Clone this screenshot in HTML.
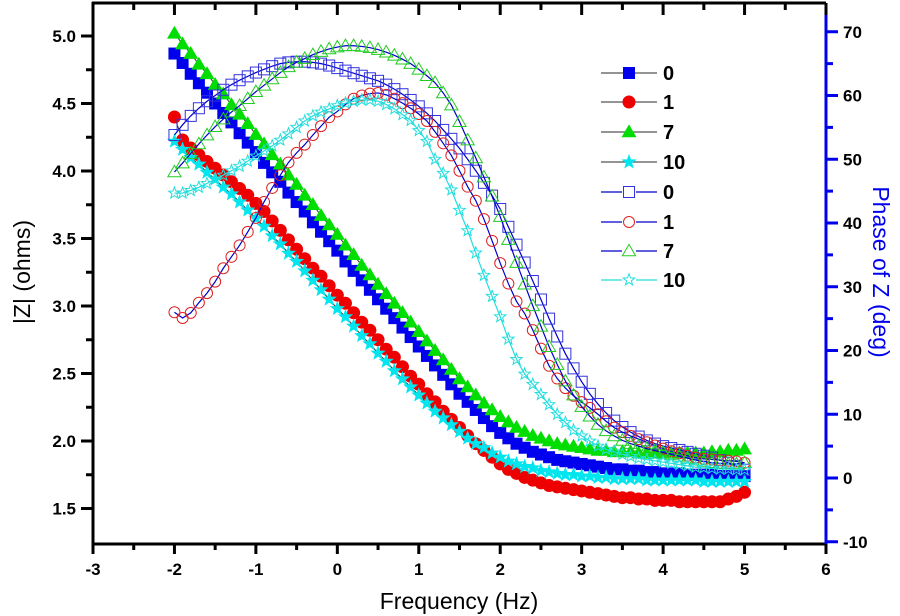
<!DOCTYPE html>
<html><head><meta charset="utf-8"><style>
html,body{margin:0;padding:0;background:#fff;}
svg{display:block;font-family:"Liberation Sans",Arial,sans-serif;}
</style></head><body>
<svg id="chart" width="900" height="616" viewBox="0 0 900 616" xmlns="http://www.w3.org/2000/svg"></svg>
<script>
const freqs = [];
for (let i = 0; i <= 70; i++) freqs.push(Math.round((-2 + i * 0.1) * 10) / 10);

const magLabels = ["0", "1", "7", "10"];
const mag0 = [4.87,4.80,4.72,4.65,4.58,4.50,4.43,4.36,4.28,4.21,4.14,4.06,3.99,3.92,3.84,3.77,3.70,3.62,3.55,3.48,3.41,3.33,3.26,3.19,3.12,3.05,2.98,2.91,2.84,2.77,2.70,2.63,2.56,2.49,2.42,2.35,2.29,2.23,2.17,2.11,2.06,2.02,1.98,1.95,1.92,1.90,1.88,1.86,1.85,1.84,1.83,1.82,1.81,1.80,1.79,1.79,1.78,1.78,1.77,1.77,1.76,1.76,1.76,1.75,1.75,1.75,1.75,1.74,1.74,1.74,1.74];
const mag1 = [4.40,4.23,4.17,4.12,4.07,4.02,3.97,3.92,3.87,3.82,3.76,3.70,3.63,3.56,3.49,3.42,3.35,3.28,3.22,3.15,3.08,3.02,2.95,2.88,2.82,2.75,2.68,2.62,2.55,2.48,2.42,2.35,2.29,2.22,2.16,2.10,2.04,1.98,1.93,1.88,1.83,1.79,1.76,1.73,1.71,1.69,1.67,1.66,1.65,1.64,1.63,1.62,1.61,1.60,1.59,1.58,1.58,1.57,1.57,1.56,1.56,1.56,1.55,1.55,1.55,1.55,1.55,1.55,1.57,1.59,1.62];
const mag7 = [5.02,4.94,4.87,4.79,4.72,4.64,4.57,4.49,4.42,4.35,4.27,4.20,4.12,4.05,3.97,3.90,3.82,3.75,3.67,3.60,3.53,3.45,3.38,3.30,3.23,3.16,3.09,3.02,2.95,2.88,2.81,2.74,2.67,2.60,2.53,2.46,2.40,2.34,2.28,2.23,2.18,2.14,2.10,2.07,2.04,2.02,2.00,1.98,1.97,1.96,1.95,1.94,1.93,1.93,1.92,1.92,1.92,1.91,1.91,1.91,1.91,1.91,1.91,1.91,1.91,1.91,1.92,1.92,1.93,1.93,1.94];
const mag10 = [4.22,4.16,4.10,4.05,3.99,3.94,3.88,3.83,3.77,3.71,3.65,3.59,3.52,3.46,3.39,3.33,3.26,3.19,3.12,3.05,2.98,2.92,2.85,2.78,2.72,2.65,2.59,2.52,2.46,2.40,2.34,2.28,2.22,2.17,2.12,2.07,2.02,1.98,1.95,1.91,1.88,1.85,1.83,1.81,1.80,1.78,1.77,1.76,1.75,1.75,1.74,1.74,1.73,1.73,1.72,1.72,1.72,1.72,1.71,1.71,1.71,1.71,1.71,1.71,1.71,1.70,1.70,1.70,1.70,1.70,1.70];

const ph0 = [53.8,55.4,56.8,58.0,59.1,60.0,60.9,61.7,62.4,63.0,63.6,64.1,64.6,65.0,65.2,65.3,65.3,65.2,65.0,64.7,64.3,63.9,63.5,63.1,62.7,62.3,61.7,61.0,60.2,59.3,58.3,57.2,56.0,54.6,53.2,51.7,50.0,48.2,46.3,44.3,42.2,39.4,36.6,33.8,30.9,28.0,25.0,22.2,19.5,17.2,15.1,13.2,11.6,10.2,9.0,8.0,7.2,6.5,5.9,5.4,5.0,4.7,4.4,4.1,3.8,3.5,3.2,2.8,2.4,1.9,1.3];
const ph1 = [26.0,25.1,25.9,27.5,29.0,30.8,32.9,34.7,36.5,38.6,40.8,43.3,45.5,47.5,49.5,51.0,52.3,53.8,55.2,56.6,57.5,58.6,59.5,60.0,60.3,60.4,60.1,59.5,58.8,58.0,57.1,56.0,54.3,52.5,50.6,48.2,45.7,43.5,40.6,37.2,33.7,30.5,27.7,25.8,23.2,20.3,17.6,15.6,14.1,12.9,11.9,11.0,10.0,8.9,7.9,7.2,6.6,6.1,5.6,5.1,4.6,4.2,3.9,3.5,3.2,3.0,2.9,2.8,2.7,2.6,2.4];
const ph7 = [48.0,49.4,50.9,52.4,53.8,55.1,56.3,57.4,58.4,59.5,60.6,61.6,62.6,63.6,64.5,65.2,65.8,66.4,66.9,67.3,67.6,67.8,67.8,67.7,67.5,67.2,66.8,66.3,65.7,65.0,64.1,63.1,62.0,60.4,58.5,55.9,53.0,50.2,47.2,44.2,41.0,37.4,33.8,30.4,27.0,23.8,20.6,17.8,15.2,13.0,11.2,9.7,8.4,7.4,6.6,5.9,5.4,5.0,4.6,4.3,4.0,3.7,3.4,3.1,2.8,2.6,2.4,2.3,2.2,2.2,2.4];
const ph10 = [44.7,44.7,45.1,45.6,46.2,46.9,47.5,48.2,48.9,49.7,50.5,51.3,52.1,53.0,54.0,55.0,56.0,56.8,57.4,57.9,58.4,58.8,59.1,59.3,59.3,59.1,58.6,57.9,57.0,56.1,54.5,52.8,50.0,47.8,45.2,42.0,38.8,35.3,31.8,28.5,25.3,21.8,18.6,16.3,14.7,13.1,11.5,10.0,8.7,7.5,6.6,5.8,5.0,4.5,4.1,3.7,3.4,3.1,2.9,2.7,2.5,2.3,2.1,1.9,1.7,1.6,1.5,1.4,1.4,1.3,1.3];

const xTicks = [-3,-2,-1,0,1,2,3,4,5,6];
const yLeftTicks = ["1.5","2.0","2.5","3.0","3.5","4.0","4.5","5.0"];
const yRightTicks = [-10,0,10,20,30,40,50,60,70];

const NS = "http://www.w3.org/2000/svg";
const svg = document.getElementById("chart");
const L = 93, R = 826, T = 3, B = 544;
function sx(v){ return L + (v + 3) * (R - L) / 9; }
function syL(v){ return 36 + (5.0 - v) * 135; }
function syR(v){ return 478 - v * 6.375; }
function mk(tag, attrs, parent){
  const e = document.createElementNS(NS, tag);
  for (const k in attrs) e.setAttribute(k, attrs[k]);
  (parent || svg).appendChild(e);
  return e;
}

// axes frame
const axes = mk("g", {});


mk("line", {x1:L-1, y1:T, x2:R, y2:T, stroke:"#000", "stroke-width":3}, axes);
mk("line", {x1:L-1, y1:B, x2:R, y2:B, stroke:"#000", "stroke-width":3}, axes);
mk("line", {x1:L, y1:T-1, x2:L, y2:B+1, stroke:"#000", "stroke-width":3}, axes);
mk("line", {x1:R, y1:T, x2:R, y2:B+1, stroke:"#0000ee", "stroke-width":3}, axes);

// x ticks
for (let i = 0; i < xTicks.length; i++) {
  const v = xTicks[i], x = sx(v);
  mk("line", {x1:x, y1:B, x2:x, y2:B+10, stroke:"#000", "stroke-width":3}, axes);
  mk("line", {x1:x, y1:T, x2:x, y2:T+12, stroke:"#000", "stroke-width":3}, axes);
  const t = mk("text", {x:x, y:B+31, "text-anchor":"middle", "font-size":17, "font-weight":"bold"}, axes);
  t.textContent = v;
  
  
  if (i < xTicks.length - 1) {
    const xm = sx(v + 0.5);
    mk("line", {x1:xm, y1:B, x2:xm, y2:B+6, stroke:"#000", "stroke-width":3}, axes);
    mk("line", {x1:xm, y1:T, x2:xm, y2:T+7, stroke:"#000", "stroke-width":3}, axes);
  }
}
// left ticks
for (let i = 0; i < yLeftTicks.length; i++) {
  const v = parseFloat(yLeftTicks[i]), y = syL(v);
  mk("line", {x1:L-12, y1:y, x2:L, y2:y, stroke:"#000", "stroke-width":3}, axes);
  if (i < yLeftTicks.length - 1) { const ym = syL(v + 0.25); mk("line", {x1:L-7, y1:ym, x2:L, y2:ym, stroke:"#000", "stroke-width":3}, axes); }
  const t = mk("text", {x:L-17, y:y+6, "text-anchor":"end", "font-size":17, "font-weight":"bold"}, axes);
  t.textContent = yLeftTicks[i];
  
  
}
// right ticks
for (let i = 0; i < yRightTicks.length; i++) {
  const v = yRightTicks[i], y = syR(v);
  mk("line", {x1:R, y1:y, x2:R+12, y2:y, stroke:"#0000ee", "stroke-width":3}, axes);
  if (i < yRightTicks.length - 1) { const ym = syR(v + 5); mk("line", {x1:R, y1:ym, x2:R+7, y2:ym, stroke:"#0000ee", "stroke-width":3}, axes); }
  const t = mk("text", {x:R+17, y:y+6, "text-anchor":"start", "font-size":17, "font-weight":"bold"}, axes);
  t.textContent = v;
  
  
}

// axis titles
let at = mk("text", {x:459, y:609, "text-anchor":"middle", "font-size":23});
at.textContent = "Frequency (Hz)";


at = mk("text", {x:0, y:0, "text-anchor":"middle", "font-size":23, transform:"translate(30,272) rotate(-90)"});
at.textContent = "|Z| (ohms)";


at = mk("text", {x:0, y:0, "text-anchor":"middle", "font-size":23, fill:"#0000ee", transform:"translate(873,272) rotate(90)"});
at.textContent = "Phase of Z (deg)";



function starPts(cx, cy, r){
  let p = [];
  for (let k = 0; k < 10; k++) {
    const a = -Math.PI/2 + k * Math.PI/5, rr = k % 2 ? r*0.42 : r;
    p.push((cx + rr*Math.cos(a)).toFixed(1) + "," + (cy + rr*Math.sin(a)).toFixed(1));
  }
  return p.join(" ");
}
function marker(g, shape, cx, cy, fill, stroke, size){
  const h = size/2;
  if (shape === "square") return mk("rect", {x:cx-h, y:cy-h, width:size, height:size, fill:fill, stroke:stroke, "stroke-width":1}, g);
  if (shape === "circle") return mk("circle", {cx:cx, cy:cy, r:h, fill:fill, stroke:stroke, "stroke-width":1}, g);
  if (shape === "triangle") return mk("polygon", {points:`${cx},${cy-h*1.1} ${cx-h*1.1},${cy+h*0.8} ${cx+h*1.1},${cy+h*0.8}`, fill:fill, stroke:stroke, "stroke-width":1}, g);
  return mk("polygon", {points:starPts(cx, cy, h*1.1), fill:fill, stroke:stroke, "stroke-width":1}, g);
}

const magSeries = [
  {vals:mag0, shape:"square", color:"#0000ee", size:11, name:"mag-0"},
  {vals:mag1, shape:"circle", color:"#ee0000", size:12, name:"mag-1"},
  {vals:mag7, shape:"triangle", color:"#00dd00", size:12, name:"mag-7"},
  {vals:mag10, shape:"star", color:"#00e5ee", size:12, name:"mag-10"}
];
const phSeries = [
  {vals:ph0, shape:"square", color:"#3333dd", line:"#0000cc", size:11, name:"phase-0"},
  {vals:ph1, shape:"circle", color:"#dd2222", line:"#0000cc", size:11, name:"phase-1"},
  {vals:ph7, shape:"triangle", color:"#22cc22", line:"#0000cc", size:12, name:"phase-7"},
  {vals:ph10, shape:"star", color:"#22dddd", line:"#22dddd", size:11, name:"phase-10"}
];

magSeries.forEach(s => {
  const g = mk("g", {});
  
  
  mk("polyline", {points:freqs.map((f,i)=>sx(f)+","+syL(s.vals[i])).join(" "), fill:"none", stroke:"#333", "stroke-width":1}, g);
  freqs.forEach((f,i) => {
    const m = marker(g, s.shape, sx(f), syL(s.vals[i]), s.color, s.color, s.size);
    
    
  });
});
phSeries.forEach(s => {
  const g = mk("g", {});
  
  
  mk("polyline", {points:freqs.map((f,i)=>sx(f)+","+syR(s.vals[i])).join(" "), fill:"none", stroke:s.line, "stroke-width":1.2}, g);
  freqs.forEach((f,i) => {
    const m = marker(g, s.shape, sx(f), syR(s.vals[i]), "none", s.color, s.size);
    
    
  });
});

// legend
const legend = mk("g", {});


const legY = [73, 102, 132, 162, 192, 222, 251, 280];
const legItems = magSeries.map(s => ({s:s, open:false, line:"#555"})).concat(phSeries.map(s => ({s:s, open:true, line:s.line})));
legItems.forEach((it, k) => {
  const y = legY[k];
  const e = mk("g", {}, legend);
  
  
  mk("line", {x1:601, y1:y, x2:657, y2:y, stroke:it.line, "stroke-width":1.2}, e);
  if (it.open) mk("rect", {x:622, y:y-6, width:14, height:12, fill:"#fff"}, e);
  marker(e, it.s.shape, 629, y, it.open ? "#fff" : it.s.color, it.s.color, it.s.size);
  const t = mk("text", {x:663, y:y+7, "font-size":20, "font-weight":"bold"}, e);
  t.textContent = magLabels[k % 4];
});
</script>
</body></html>
